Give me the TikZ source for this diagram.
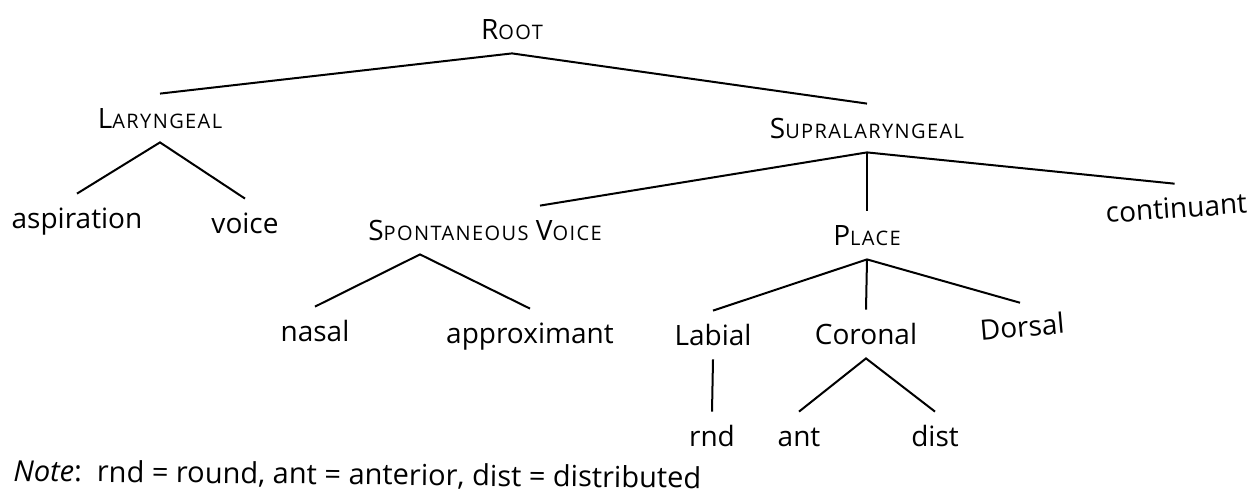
\documentclass[tikz,border=0pt]{standalone}
\usepackage{fontspec}
\setmainfont{Open Sans}
\newfontfamily\scfont[LetterSpace=7]{Open Sans}
\newcommand{\smc}[2]{#1{\scfont\fontsize{10}{12}\selectfont #2}}
\begin{document}
\begin{tikzpicture}[x=0.5pt,y=-0.5pt,
    lbl/.style={anchor=base,inner xsep=0pt,inner ysep=7pt,text height=10pt,text depth=0pt,font=\fontsize{14}{17}\selectfont},
    edge/.style={line width=1pt}]
        \useasboundingbox (0,0) rectangle (1257,493);

        % Nodes
        \node at (512,39) [lbl] (root) {\smc{R}{OOT}};
        \node at (160,128) [lbl] (lar) {\smc{L}{ARYNGEAL}};
        \node at (867,138) [lbl] (supra) {\smc{S}{UPRALARYNGEAL}};
        \node at (77,228) [lbl] (asp) {aspiration};
        \node at (245,233) [lbl] (voice) {voice};
        \node at (485,240) [lbl] (sv) {\smc{S}{PONTANEOUS} \smc{V}{OICE}};
        \node at (867,245) [lbl] (place) {\smc{P}{LACE}};
        \node at (1177,218) [lbl,rotate=4] (cont) {continuant};
        \node at (315,341) [lbl] (nasal) {nasal};
        \node at (530,343) [lbl] (approx) {approximant};
        \node at (713,345) [lbl] (lab) {Labial};
        \node at (866,344) [lbl] (cor) {Coronal};
        \node at (1023,337) [lbl,rotate=5] (dor) {Dorsal};
        \node at (712,446) [lbl] (rnd) {rnd};
        \node at (799,446) [lbl] (ant) {ant};
        \node at (935,446) [lbl] (dist) {dist};
        \node at (13,481) [lbl,anchor=base west,rotate=-0.6,font=\fontsize{14.5}{17}\selectfont] (note) {\textit{Note}:\ \ rnd = round, ant = anterior, dist = distributed};

        % Lines
        \draw[edge] (lar.north) -- (root.south) -- (supra.north);
        \draw[edge] (asp.north) -- (lar.south) -- (voice.north);
        \draw[edge] ([xshift=27.5pt]sv.north) -- (supra.south) -- (cont.north);
        \draw[edge] (supra.south) -- (place.north);
        \draw[edge] (nasal.north) -- ([xshift=-32.5pt]sv.south) -- (approx.north);
        \draw[edge] (lab.north) -- (place.south) -- (dor.north);
        \draw[edge] (place.south) -- (cor.north);
        \draw[edge] (lab.south) -- (rnd.north);
        \draw[edge] (ant.north) -- (cor.south) -- (dist.north);

    \end{tikzpicture}
\end{document}
